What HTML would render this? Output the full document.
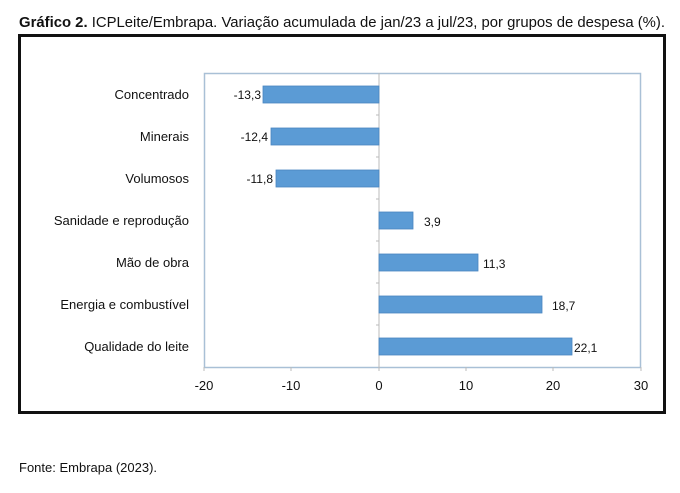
<!DOCTYPE html>
<html><head><meta charset="utf-8"><style>
html,body{margin:0;padding:0;background:#fff;}
svg{display:block;font-family:"Liberation Sans",sans-serif;}
</style></head><body>
<svg width="680" height="493" viewBox="0 0 680 493" xmlns="http://www.w3.org/2000/svg">
<text x="19" y="27" font-size="14.5" fill="#111" textLength="646" lengthAdjust="spacingAndGlyphs"><tspan font-weight="bold">Gráfico 2.</tspan> ICPLeite/Embrapa. Variação acumulada de jan/23 a jul/23, por grupos de despesa (%).</text>
<rect x="19.5" y="35.5" width="645" height="377" fill="#fff" stroke="#111" stroke-width="3"/>
<rect x="204.5" y="73.5" width="436" height="294" fill="#fff" stroke="#a9c0d6" stroke-width="1.5"/>
<line x1="379" y1="73" x2="379" y2="367" stroke="#bbb" stroke-width="1"/>
<g stroke="#bbb" stroke-width="1">
<line x1="376" y1="115" x2="379" y2="115"/><line x1="376" y1="157" x2="379" y2="157"/><line x1="376" y1="199" x2="379" y2="199"/><line x1="376" y1="241" x2="379" y2="241"/><line x1="376" y1="283" x2="379" y2="283"/><line x1="376" y1="325" x2="379" y2="325"/>
<line x1="204" y1="367" x2="204" y2="371"/><line x1="291" y1="367" x2="291" y2="371"/><line x1="379" y1="367" x2="379" y2="371"/><line x1="466" y1="367" x2="466" y2="371"/><line x1="553" y1="367" x2="553" y2="371"/><line x1="641" y1="367" x2="641" y2="371"/>
</g>
<g fill="#5b9bd5" stroke="#4a86c0" stroke-width="0.8">
<rect x="263" y="86" width="116" height="17"/>
<rect x="271" y="128" width="108" height="17"/>
<rect x="276" y="170" width="103" height="17"/>
<rect x="379" y="212" width="34" height="17"/>
<rect x="379" y="254" width="99" height="17"/>
<rect x="379" y="296" width="163" height="17"/>
<rect x="379" y="338" width="193" height="17"/>
</g>
<g font-size="12" fill="#111">
<text x="261" y="99" text-anchor="end">-13,3</text>
<text x="268" y="141" text-anchor="end">-12,4</text>
<text x="273" y="183" text-anchor="end">-11,8</text>
<text x="424" y="226">3,9</text>
<text x="483" y="268">11,3</text>
<text x="552" y="310">18,7</text>
<text x="574" y="352">22,1</text>
</g>
<g font-size="13" fill="#111" text-anchor="end">
<text x="189" y="99">Concentrado</text>
<text x="189" y="141">Minerais</text>
<text x="189" y="183">Volumosos</text>
<text x="189" y="225">Sanidade e reprodução</text>
<text x="189" y="267">Mão de obra</text>
<text x="189" y="309">Energia e combustível</text>
<text x="189" y="351">Qualidade do leite</text>
</g>
<g font-size="13" fill="#111" text-anchor="middle">
<text x="204" y="390">-20</text>
<text x="291" y="390">-10</text>
<text x="379" y="390">0</text>
<text x="466" y="390">10</text>
<text x="553" y="390">20</text>
<text x="641" y="390">30</text>
</g>
<text x="19" y="472" font-size="13" fill="#111">Fonte: Embrapa (2023).</text>
</svg>
</body></html>
